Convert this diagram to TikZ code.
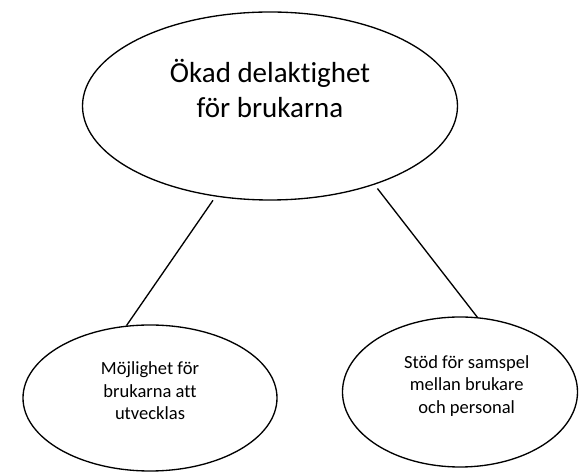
\documentclass[tikz,border=0pt]{standalone}
\usepackage{fontspec}
\setmainfont{Carlito}[Ligatures=NoCommon]
\usetikzlibrary{shapes.geometric}

\tikzset{
  bubble/.style={draw, ellipse, line width=1pt, inner sep=0pt},
  smalltext/.style={align=center, font=\fontsize{13.9}{16.9}\selectfont},
  bigtext/.style={align=center, font=\fontsize{21.75}{26.25}\selectfont},
}

\begin{document}
\begin{tikzpicture}[x=0.75pt, y=-0.75pt]
  % 画布大小
  \useasboundingbox (0,0) rectangle (579,473);

  % 三个椭圆
  \node[bubble, minimum width=281.25pt, minimum height=141pt] (okad) at (270,106) {};
  \node[bubble, minimum width=190.5pt, minimum height=109.5pt] (mojl) at (150,398) {};
  \node[bubble, minimum width=176.25pt, minimum height=112.5pt] (stod) at (460,392) {};

  % 文字
  \node[bigtext] (okadtext) at ([yshift=13.5pt]okad.center) {Ökad delaktighet\\för brukarna};
  \node[smalltext] (mojltext) at ([yshift=5.5pt]mojl.center) {Möjlighet för\\brukarna att\\utvecklas};
  \node[smalltext] (stodtext) at ([xshift=5pt, yshift=4.5pt]stod.center) {Stöd för samspel\\mellan brukare\\och personal};

  % 连线
  \draw[line width=1pt, shorten <=3.4pt] (okad.239.9) -- (mojl.108.3);
  \draw[line width=1pt, shorten <=3.6pt] (okad.323.1) -- (stod.77.8);
\end{tikzpicture}
\end{document}
